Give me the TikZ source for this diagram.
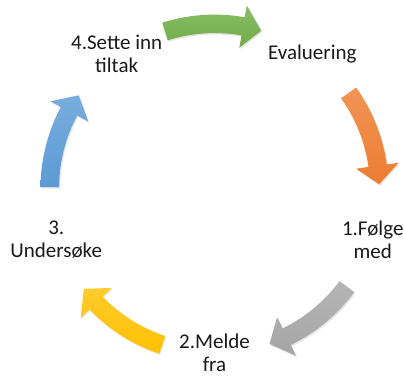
\documentclass[tikz,border=0pt]{standalone}
\usepackage{fontspec}
\setmainfont{Carlito}
\usepackage{tikz}
\usetikzlibrary{positioning}
\usetikzlibrary{shadows}

\definecolor{accorange}{HTML}{ED7D31}
\definecolor{accgray}{HTML}{A5A5A5}
\definecolor{accyellow}{HTML}{FFC000}
\definecolor{accblue}{HTML}{5B9BD5}
\definecolor{accgreen}{HTML}{70AD47}

\begin{document}
\begin{tikzpicture}[step node/.style={align=center,inner sep=0pt,text=black!90,font=\fontsize{21}{23}\selectfont},
   cycle arrow/.style={drop shadow={opacity=0.2,shadow xshift=1pt,shadow yshift=-1.5pt}}]
   \useasboundingbox (-214.5pt,-186.4pt) rectangle (189.5pt,188.6pt);
   \node[step node] (s_0) at (54:166.4pt) {Evaluering};
   \node[step node] (s_1) at (-18:166.4pt) {1.Følge\\med};
   \node[step node] (s_2) at (-90:164.5pt) {2.Melde\\fra};
   \node[step node] (s_3) at (198:166.4pt) {3.\\Undersøke};
   \node[step node] (s_4) at (126:166.4pt) {4.Sette inn\\tiltak};
   % arrows between the steps, clockwise
   \foreach \a/\col in {90/accgreen,18/accorange,-54/accgray,-126/accyellow,162/accblue}
      \path[cycle arrow,top color=\col!82!white,bottom color=\col]
         (\a+17.5:174pt) arc[start angle=\a+17.5,end angle=\a-10,radius=174pt]
         -- (\a-10:186pt) -- (\a-16.5:164.7pt) -- (\a-10:143pt)
         -- (\a-10:155.5pt) arc[start angle=\a-10,end angle=\a+17.5,radius=155.5pt]
         -- cycle;
\end{tikzpicture}
\end{document}
